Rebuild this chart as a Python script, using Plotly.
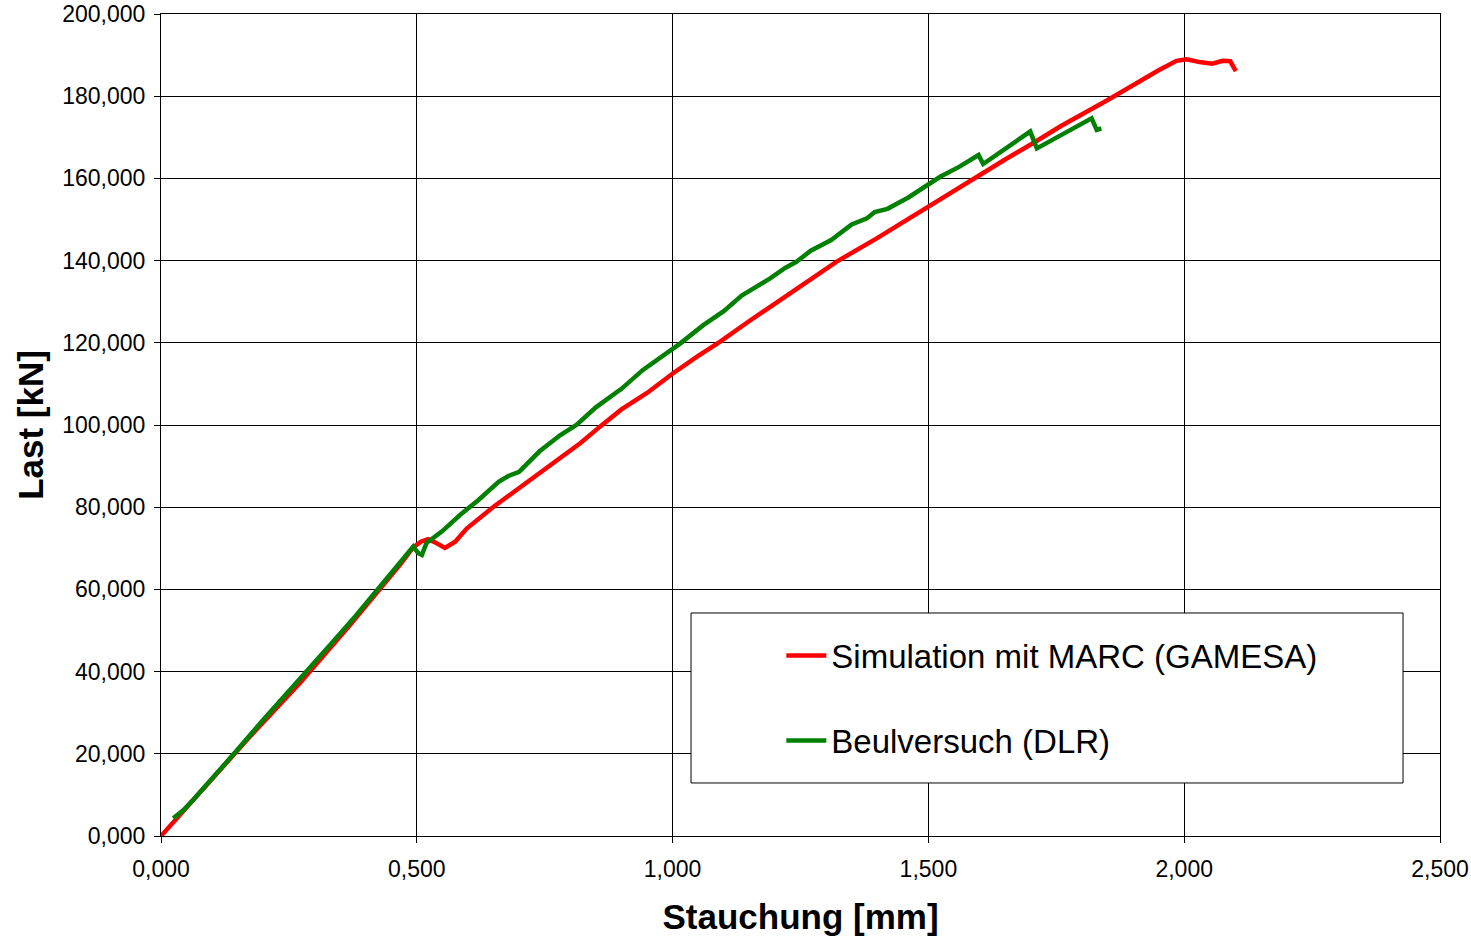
import plotly.graph_objects as go

# Stauchung [mm] / Last [kN] – Simulation (MARC) vs. buckling test (DLR)
sim_x = [0.000, 0.0235, 0.076, 0.174, 0.272, 0.369, 0.467, 0.493, 0.508, 0.522,
         0.538, 0.555, 0.575, 0.5975, 0.650, 0.700, 0.750, 0.786, 0.820, 0.858,
         0.900, 0.950, 1.001, 1.050, 1.093, 1.150, 1.200, 1.250, 1.320, 1.399,
         1.450, 1.523, 1.588, 1.650, 1.705, 1.760, 1.848, 1.900, 1.950, 1.985,
         2.005, 2.030, 2.055, 2.075, 2.090, 2.101]
sim_y = [0.0, 3.3, 10.5, 24.2, 37.3, 51.3, 66.0, 70.2, 71.6, 72.2,
         71.3, 70.1, 71.6, 74.8, 80.1, 84.6, 89.2, 92.4, 95.6, 99.6,
         103.8, 107.8, 112.6, 116.8, 120.3, 125.3, 129.6, 133.8, 139.7, 145.4,
         149.3, 155.1, 160.0, 164.6, 168.6, 172.8, 178.9, 182.8, 186.3, 188.6,
         189.0, 188.3, 187.9, 188.6, 188.5, 186.1]

test_x = [0.024, 0.044, 0.063, 0.096, 0.131, 0.1446, 0.200, 0.250, 0.288, 0.330,
          0.380, 0.428, 0.460, 0.493, 0.503, 0.510, 0.519, 0.550, 0.5844, 0.620,
          0.660, 0.679, 0.700, 0.740, 0.780, 0.812, 0.850, 0.900, 0.942, 0.980,
          1.0145, 1.060, 1.100, 1.135, 1.148, 1.190, 1.220, 1.242, 1.270, 1.310,
          1.350, 1.380, 1.395, 1.420, 1.460, 1.500, 1.523, 1.560, 1.598, 1.607,
          1.650, 1.699, 1.712, 1.750, 1.783, 1.819, 1.829, 1.838]
test_y = [4.3, 6.3, 8.8, 13.6, 18.4, 20.3, 28.3, 35.2, 40.2, 46.4,
          53.5, 60.5, 65.4, 70.4, 68.8, 68.4, 71.3, 74.2, 78.1, 81.7,
          86.2, 87.6, 88.6, 93.6, 97.5, 100.0, 104.3, 108.8, 113.4, 116.8,
          119.8, 124.3, 127.7, 131.5, 132.4, 135.6, 138.2, 139.7, 142.4, 145.0,
          148.8, 150.3, 151.8, 152.6, 155.3, 158.4, 160.4, 162.8, 165.7, 163.5,
          167.2, 171.4, 167.3, 170.0, 172.3, 174.6, 171.8, 172.2]

x_ticks = [0.0, 0.5, 1.0, 1.5, 2.0, 2.5]
y_ticks = [0, 20, 40, 60, 80, 100, 120, 140, 160, 180, 200]

FONT = "Liberation Sans, Arial, sans-serif"

fig = go.Figure()
fig.add_trace(go.Scatter(x=sim_x, y=sim_y, mode="lines",
                         name="Simulation mit MARC (GAMESA)", legendgroup="a",
                         line=dict(color="#FF0000", width=4.5)))
fig.add_trace(go.Scatter(x=test_x, y=test_y, mode="lines",
                         name="Beulversuch (DLR)", legendgroup="b",
                         line=dict(color="#008000", width=4.5)))

axis_common = dict(
    showgrid=True, gridcolor="#000000", gridwidth=1,
    showline=True, linecolor="#000000", linewidth=1, mirror=True,
    ticks="outside", ticklen=6, tickcolor="#000000",
    tickfont=dict(family=FONT, size=23, color="#000000"),
    zeroline=False, automargin=False,
)

fig.update_xaxes(range=[0, 2.5], tickvals=x_ticks, tickformat=".3f",
                 ticklabelstandoff=6,
                 title=dict(text="<b>Stauchung [mm]</b>", standoff=23,
                            font=dict(family=FONT, size=35, color="#000000")),
                 **axis_common)
fig.update_yaxes(range=[0, 200], tickvals=y_ticks, tickformat=".3f",
                 ticklabelstandoff=4,
                 title=dict(text="<b>Last [kN]</b>", standoff=8,
                            font=dict(family=FONT, size=35, color="#000000")),
                 **axis_common)

# framed legend panel
fig.add_shape(type="rect", xref="paper", yref="paper",
              x0=0.4144, x1=0.9711, y0=0.0645, y1=0.2713,
              line=dict(color="#000000", width=1), fillcolor="#FFFFFF",
              layer="above")

fig.update_layout(
    width=1471, height=937,
    margin=dict(l=161, r=31, t=14, b=101),
    paper_bgcolor="#FFFFFF", plot_bgcolor="#FFFFFF",
    separators=",.",
    showlegend=True,
    legend=dict(x=0.485, y=0.2535, xanchor="left", yanchor="top",
                bgcolor="rgba(0,0,0,0)", borderwidth=0,
                font=dict(family=FONT, size=33, color="#000000"),
                tracegroupgap=39, itemwidth=40),
)

fig.write_html("out.html")
